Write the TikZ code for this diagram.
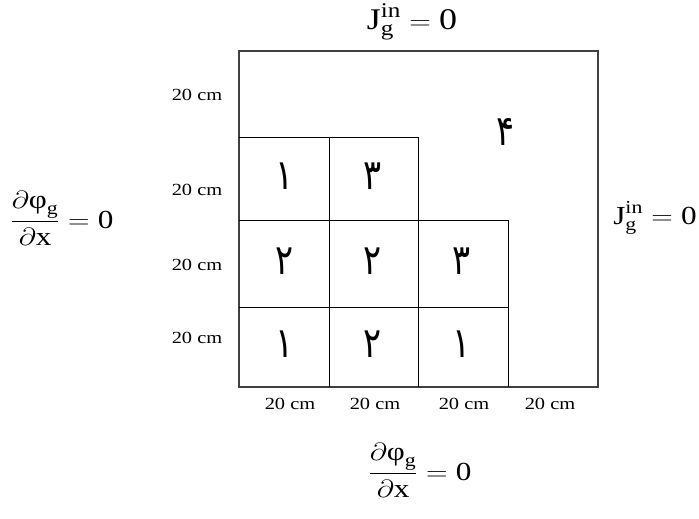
\documentclass[tikz,border=0pt]{standalone}
\usepackage{fontspec}
\usepackage{amsmath}
\setmainfont{Liberation Serif}
\newfontfamily\arabicfont[Script=Arabic]{DejaVu Sans}
\newcommand{\hwide}[1]{\scalebox{1.2}[1]{#1}}
\begin{document}
\begin{tikzpicture}[x=1pt,y=-1pt,
  outerbox/.style={draw=black!75, line width=1.1pt},
  gridline/.style={draw=black, line width=0.8pt},
  lab/.style={font=\fontsize{17}{19}\selectfont, inner sep=0pt},
  dig/.style={font=\arabicfont\fontsize{42}{46}\selectfont, inner sep=0pt},
  eq/.style={font=\fontsize{26}{30}\selectfont, inner sep=0pt},
  eqbig/.style={font=\fontsize{30}{34}\selectfont, inner sep=0pt}]
\useasboundingbox (0,0) rectangle (699,519);
% outer boundary
\draw[outerbox] (239,51) rectangle (598,387);
% inner grid
\draw[gridline] (239,137) -- (418,137) -- (418,387);
\draw[gridline] (329,137) -- (329,387);
\draw[gridline] (239,220) -- (508,220) -- (508,387);
\draw[gridline] (239,307) -- (508,307);
% region numbers
\node[dig] (a11) at (285,176) {\scalebox{0.8}[1]{۱}};
\node[dig] (a12) at (373,176) {\scalebox{0.8}[1]{۳}};
\node[dig] (a21) at (285,261) {\scalebox{0.8}[1]{۲}};
\node[dig] (a22) at (373,261) {\scalebox{0.8}[1]{۲}};
\node[dig] (a23) at (462,261) {\scalebox{0.8}[1]{۳}};
\node[dig] (a31) at (285,344) {\scalebox{0.8}[1]{۱}};
\node[dig] (a32) at (373,344) {\scalebox{0.8}[1]{۲}};
\node[dig] (a33) at (462,344) {\scalebox{0.8}[1]{۱}};
\node[dig] (a4) at (506,132) {\scalebox{0.8}[1]{۴}};
% dimension labels
\node[lab] (l1) at (197,95) {\hwide{20 cm}};
\node[lab] (l2) at (197,190) {\hwide{20 cm}};
\node[lab] (l3) at (197,265) {\hwide{20 cm}};
\node[lab] (l4) at (197,338) {\hwide{20 cm}};
\node[lab] (b1) at (290,404) {\hwide{20 cm}};
\node[lab] (b2) at (375,404) {\hwide{20 cm}};
\node[lab] (b3) at (464,404) {\hwide{20 cm}};
\node[lab] (b4) at (550,404) {\hwide{20 cm}};
% boundary conditions
\node[eqbig] (top) at (412,22) {\hwide{$\text{J}_{\text{g}}^{\text{in}} = \text{0}$}};
\node[eq] (right) at (655,218) {\hwide{$\text{J}_{\text{g}}^{\text{in}} = \text{0}$}};
\node[eq] (left) at (62,218) {\hwide{$\dfrac{\partial\text{φ}_{\text{g}}}{\partial\text{x}} = \text{0}$}};
\node[eq] (bottom) at (420,470) {\hwide{$\dfrac{\partial\text{φ}_{\text{g}}}{\partial\text{x}} = \text{0}$}};
\end{tikzpicture}
\end{document}
